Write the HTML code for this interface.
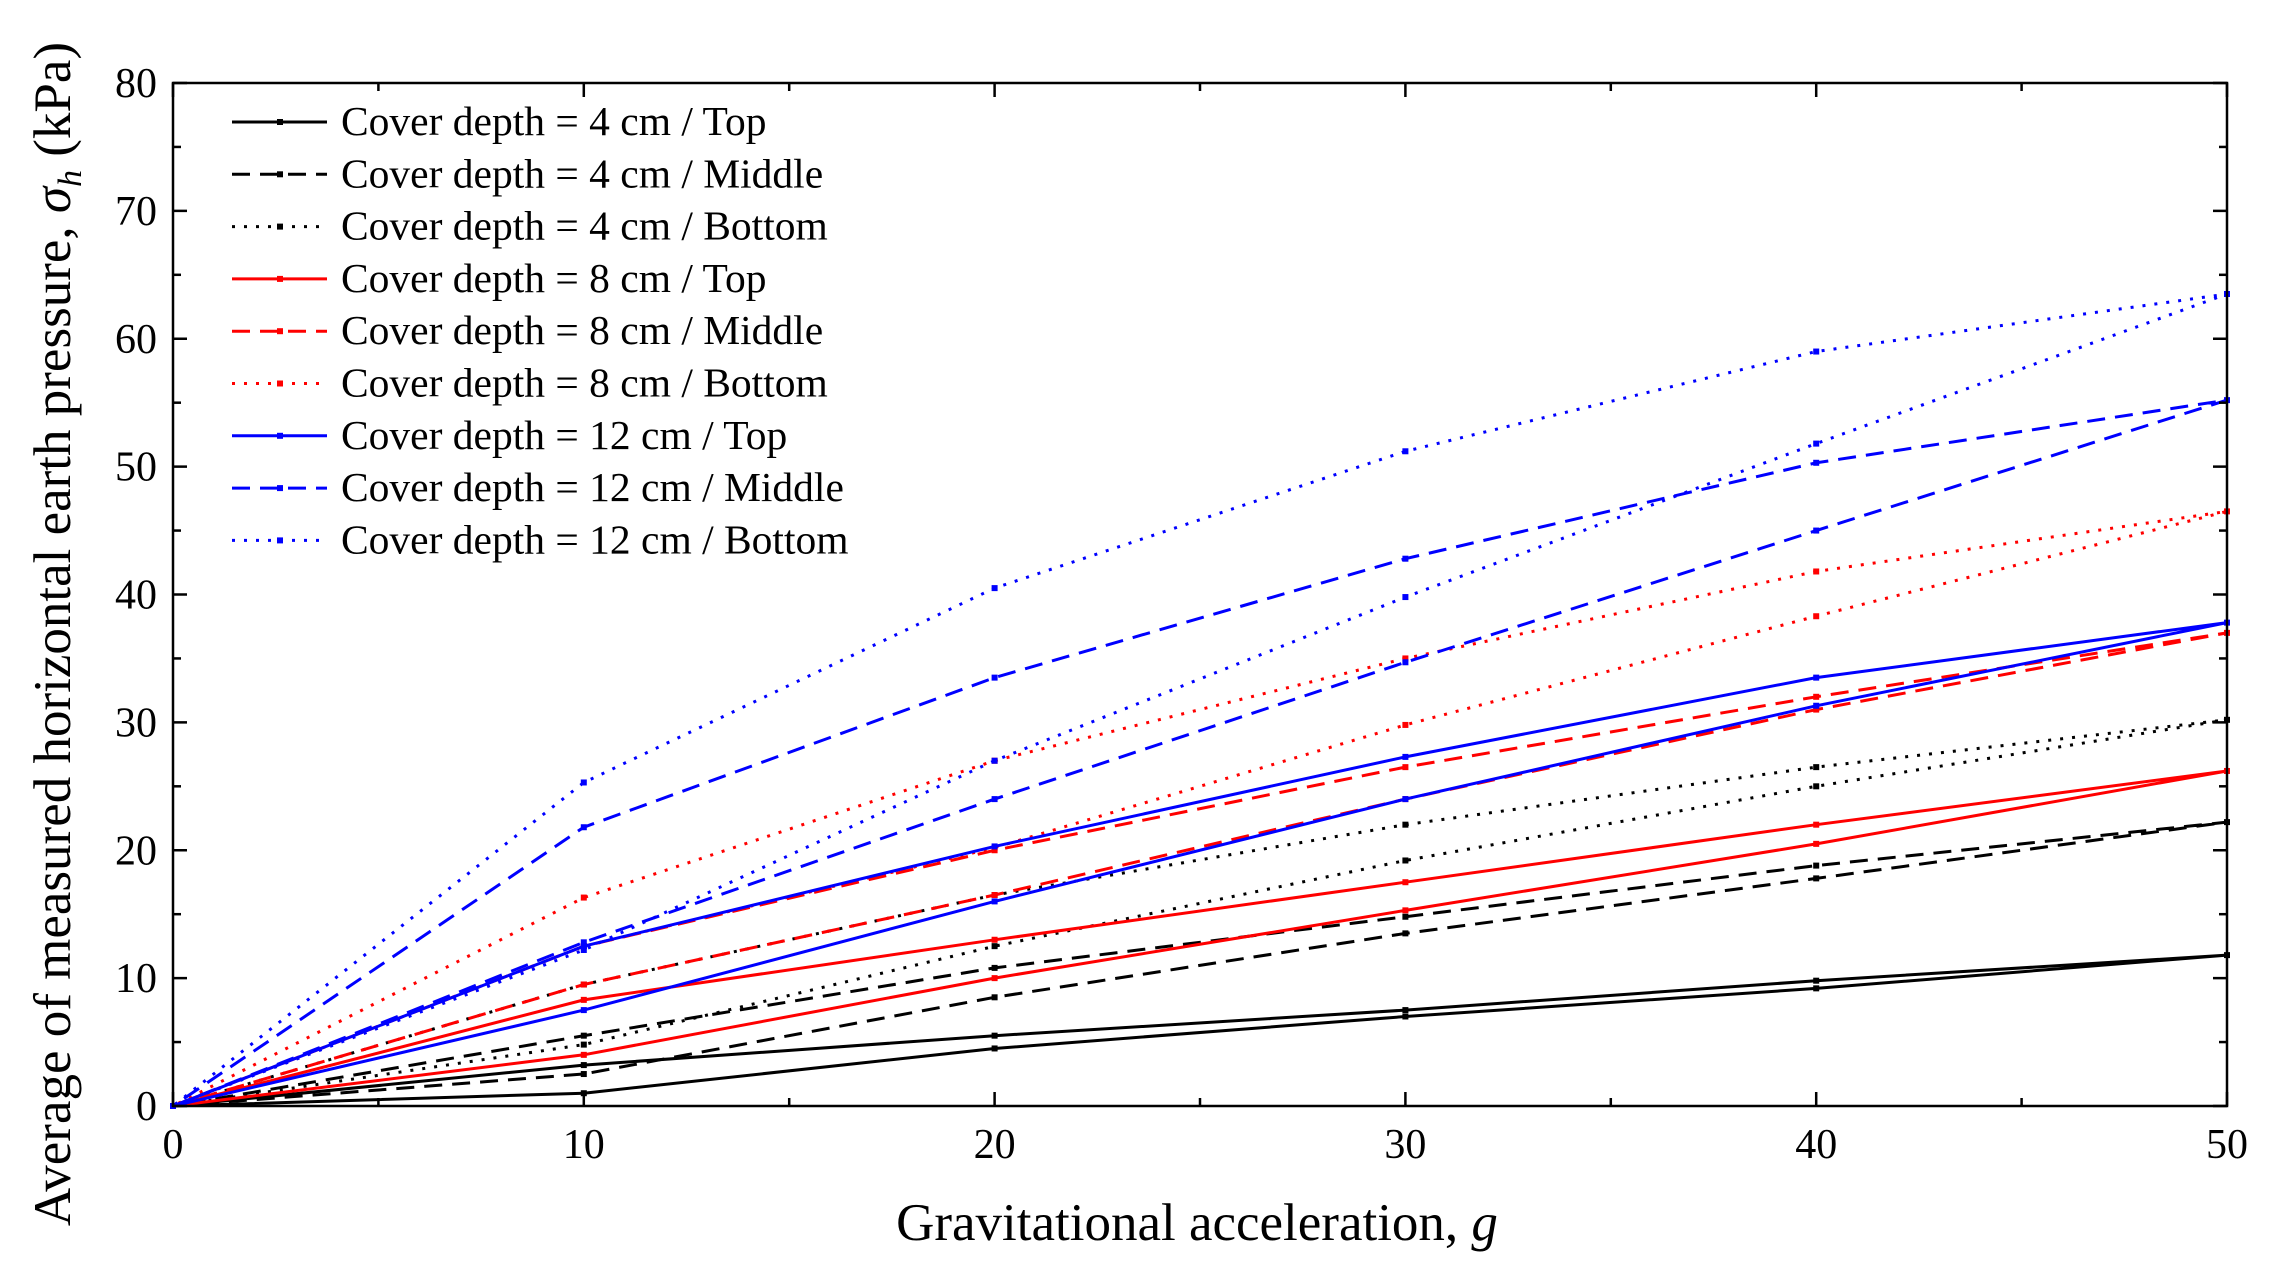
<!DOCTYPE html>
<html><head><meta charset="utf-8"><style>
html,body{margin:0;padding:0;background:#fff;}
svg{display:block;font-family:"Liberation Serif",serif;}
</style></head><body>
<svg id="chart" width="2275" height="1280" viewBox="0 0 2275 1280">
<g id="marks"></g>
<g id="axes"></g>
<g id="legend"></g>
<text x="1197" y="1240" font-size="53" text-anchor="middle">Gravitational acceleration, <tspan font-style="italic">g</tspan></text>
<text transform="translate(70,634) rotate(-90)" font-size="53" text-anchor="middle">Average of measured horizontal earth pressure, <tspan font-style="italic">σ</tspan><tspan font-style="italic" font-size="34" dy="11">h</tspan><tspan dy="-11"> (kPa)</tspan></text>
</svg>
<script>
const xValues = [0,10,20,30,40,50,40,30,20,10,0];
const xTicks = [0,10,20,30,40,50];
const yTicks = [0,10,20,30,40,50,60,70,80];
const seriesNames = ["Cover depth = 4 cm / Top","Cover depth = 4 cm / Middle","Cover depth = 4 cm / Bottom","Cover depth = 8 cm / Top","Cover depth = 8 cm / Middle","Cover depth = 8 cm / Bottom","Cover depth = 12 cm / Top","Cover depth = 12 cm / Middle","Cover depth = 12 cm / Bottom"];
const s4Top = [0,1,4.5,7,9.2,11.8,9.8,7.5,5.5,3.2,0];
const s4Mid = [0,2.5,8.5,13.5,17.8,22.2,18.8,14.8,10.8,5.5,0];
const s4Bot = [0,4.8,12.5,19.2,25,30.2,26.5,22,16.5,9.5,0];
const s8Top = [0,4,10,15.3,20.5,26.2,22,17.5,13,8.3,0];
const s8Mid = [0,9.5,16.5,24,31,37,32,26.5,20,12.5,0];
const s8Bot = [0,12.5,20.2,29.8,38.3,46.5,41.8,35,27,16.3,0];
const s12Top = [0,7.5,16,24,31.3,37.8,33.5,27.3,20.3,12.5,0];
const s12Mid = [0,12.8,24,34.7,45,55.2,50.3,42.8,33.5,21.8,0];
const s12Bot = [0,12.2,27,39.8,51.8,63.5,59,51.2,40.5,25.3,0];
const allSeries = [s4Top,s4Mid,s4Bot,s8Top,s8Mid,s8Bot,s12Top,s12Mid,s12Bot];
const colors = ["#000","#000","#000","#f00","#f00","#f00","#00f","#00f","#00f"];
const dashes = ["none","18 10","3 9","none","18 10","3 9","none","18 10","3 9"];
const keys = ["4-top","4-middle","4-bottom","8-top","8-middle","8-bottom","12-top","12-middle","12-bottom"];

const L=173,R=2227,T=83,B=1106;
const NS="http://www.w3.org/2000/svg";
function sx(v){return L+(v-0)/50*(R-L);}
function sy(v){return B-(v-0)/80*(B-T);}
function mk(tag,attrs,parent){const e=document.createElementNS(NS,tag);for(const k in attrs)e.setAttribute(k,attrs[k]);parent.appendChild(e);return e;}

const marks=document.getElementById('marks');
allSeries.forEach((s,i)=>{
  const g=mk('g',{},marks);
  
  
  const d=s.map((v,j)=>(j?'L':'M')+sx(xValues[j]).toFixed(1)+' '+sy(v).toFixed(1)).join(' ');
  const p=mk('path',{d:d,fill:'none',stroke:colors[i],'stroke-width':3,'stroke-dasharray':dashes[i]},g);
  
  
  s.forEach((v,j)=>{
    const m=mk('rect',{x:sx(xValues[j])-3,y:sy(v)-3,width:6,height:6,fill:colors[i]},g);
    
    
  });
});

const axes=document.getElementById('axes');
const frame=mk('rect',{x:L,y:T,width:R-L,height:B-T,fill:'none',stroke:'#000','stroke-width':2.5},axes);


for(let v=0;v<=50;v+=5){
  const len=(v%10===0)?14:8;
  mk('line',{x1:sx(v),x2:sx(v),y1:B,y2:B-len,stroke:'#000','stroke-width':2.5},axes);
  mk('line',{x1:sx(v),x2:sx(v),y1:T,y2:T+len,stroke:'#000','stroke-width':2.5},axes);
}
for(let v=0;v<=80;v+=5){
  const len=(v%10===0)?14:8;
  mk('line',{x1:L,x2:L+len,y1:sy(v),y2:sy(v),stroke:'#000','stroke-width':2.5},axes);
  mk('line',{x1:R,x2:R-len,y1:sy(v),y2:sy(v),stroke:'#000','stroke-width':2.5},axes);
}
xTicks.forEach(v=>{
  const t=mk('text',{x:sx(v),y:B+52,'font-size':42,'text-anchor':'middle'},axes);
  t.textContent=v;
  
  
});
yTicks.forEach(v=>{
  const t=mk('text',{x:L-16,y:sy(v)+14,'font-size':42,'text-anchor':'end'},axes);
  t.textContent=v;
  
  
});

const legend=document.getElementById('legend');
seriesNames.forEach((n,i)=>{
  const y=122+i*52.3;
  const g=mk('g',{},legend);
  
  
  mk('line',{x1:232,x2:327,y1:y,y2:y,stroke:colors[i],'stroke-width':3,'stroke-dasharray':dashes[i]},g);
  mk('rect',{x:277,y:y-3,width:6,height:6,fill:colors[i]},g);
  const t=mk('text',{x:341,y:y+13,'font-size':41.5},g);
  t.textContent=n;
});
</script>
</body></html>
